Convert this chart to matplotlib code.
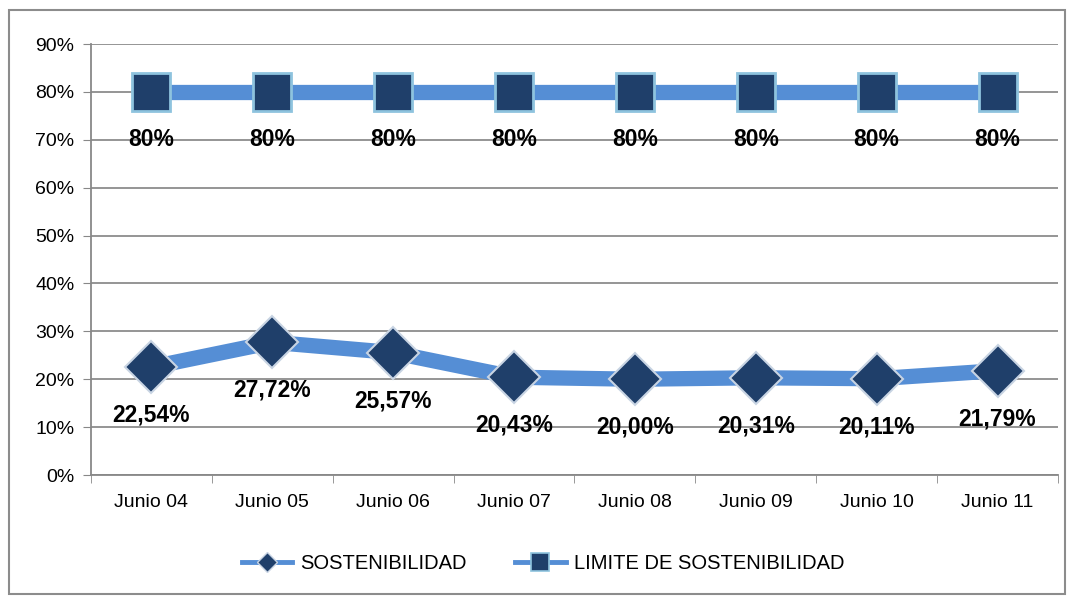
import matplotlib.pyplot as plt
from matplotlib.lines import Line2D
from matplotlib.patches import Rectangle
from matplotlib.ticker import FixedLocator

categories = ['Junio 04', 'Junio 05', 'Junio 06', 'Junio 07',
              'Junio 08', 'Junio 09', 'Junio 10', 'Junio 11']
sostenibilidad = [22.54, 27.72, 25.57, 20.43, 20.00, 20.31, 20.11, 21.79]
limite = [80, 80, 80, 80, 80, 80, 80, 80]
y_ticks = [0, 10, 20, 30, 40, 50, 60, 70, 80, 90]

plt.rcParams['font.family'] = ['Liberation Sans', 'DejaVu Sans']

LINE = '#558ED5'
NAVY = '#1F3F6A'

fig = plt.figure(figsize=(10.69, 5.96), dpi=100)
ax = fig.add_axes([0.0851, 0.203, 0.9046, 0.723])

xs = list(range(len(categories)))
ax.plot(xs, sostenibilidad, color=LINE, lw=11, marker='D', ms=26,
        mfc=NAVY, mec='#C8D4E3', mew=1.5, zorder=3, solid_capstyle='butt')
ax.plot(xs, limite, color=LINE, lw=11, marker='s', ms=28,
        mfc=NAVY, mec='#8EC3DE', mew=2, zorder=3, solid_capstyle='butt')

# etiquetas de datos debajo de cada punto
for x, v in zip(xs, sostenibilidad):
    ax.annotate(('%.2f' % v).replace('.', ',') + '%', (x, v), xytext=(0, -48),
                textcoords='offset pixels', ha='center', va='center',
                fontsize=16.5, fontweight='bold', color='black')
for x, v in zip(xs, limite):
    ax.annotate('%d%%' % v, (x, v), xytext=(0, -48),
                textcoords='offset pixels', ha='center', va='center',
                fontsize=16.5, fontweight='bold', color='black')

ax.set_xlim(-0.5, len(categories) - 0.5)
ax.set_ylim(0, 90)
ax.set_yticks(y_ticks)
ax.set_yticklabels(['%d%%' % t for t in y_ticks])
ax.set_xticks(xs)
ax.set_xticklabels(categories)
ax.xaxis.set_minor_locator(FixedLocator([i - 0.5 for i in range(len(categories) + 1)]))
ax.tick_params(axis='x', which='major', length=0, pad=14, labelsize=14)
ax.tick_params(axis='x', which='minor', length=6, color='#888888')
ax.tick_params(axis='y', length=6, color='#888888', labelsize=14, pad=6)
ax.yaxis.grid(True, color='#8C8C8C', lw=1.3)
ax.set_axisbelow(True)
for s in ['top', 'right']:
    ax.spines[s].set_visible(False)
for s in ['left', 'bottom']:
    ax.spines[s].set_color('#888888')
    ax.spines[s].set_linewidth(1.3)

handles = [
    Line2D([], [], color=LINE, lw=3.5, marker='D', ms=10, mfc=NAVY, mec='#C8D4E3', mew=1),
    Line2D([], [], color=LINE, lw=3.5, marker='s', ms=13, mfc=NAVY, mec='#8EC3DE', mew=1.2),
]
fig.legend(handles, ['SOSTENIBILIDAD', 'LIMITE DE SOSTENIBILIDAD'],
           loc='center', bbox_to_anchor=(0.508, 0.055), ncol=2, frameon=False,
           fontsize=14.5, handlelength=2.5, handletextpad=0.4, columnspacing=2.4)

fig.patches.append(Rectangle((9 / 1069, 2 / 596), 1056 / 1069, 584 / 596,
                             transform=fig.transFigure, fill=False,
                             edgecolor='#8C8C8C', lw=1.5))

fig.savefig('out.png', dpi=100)
